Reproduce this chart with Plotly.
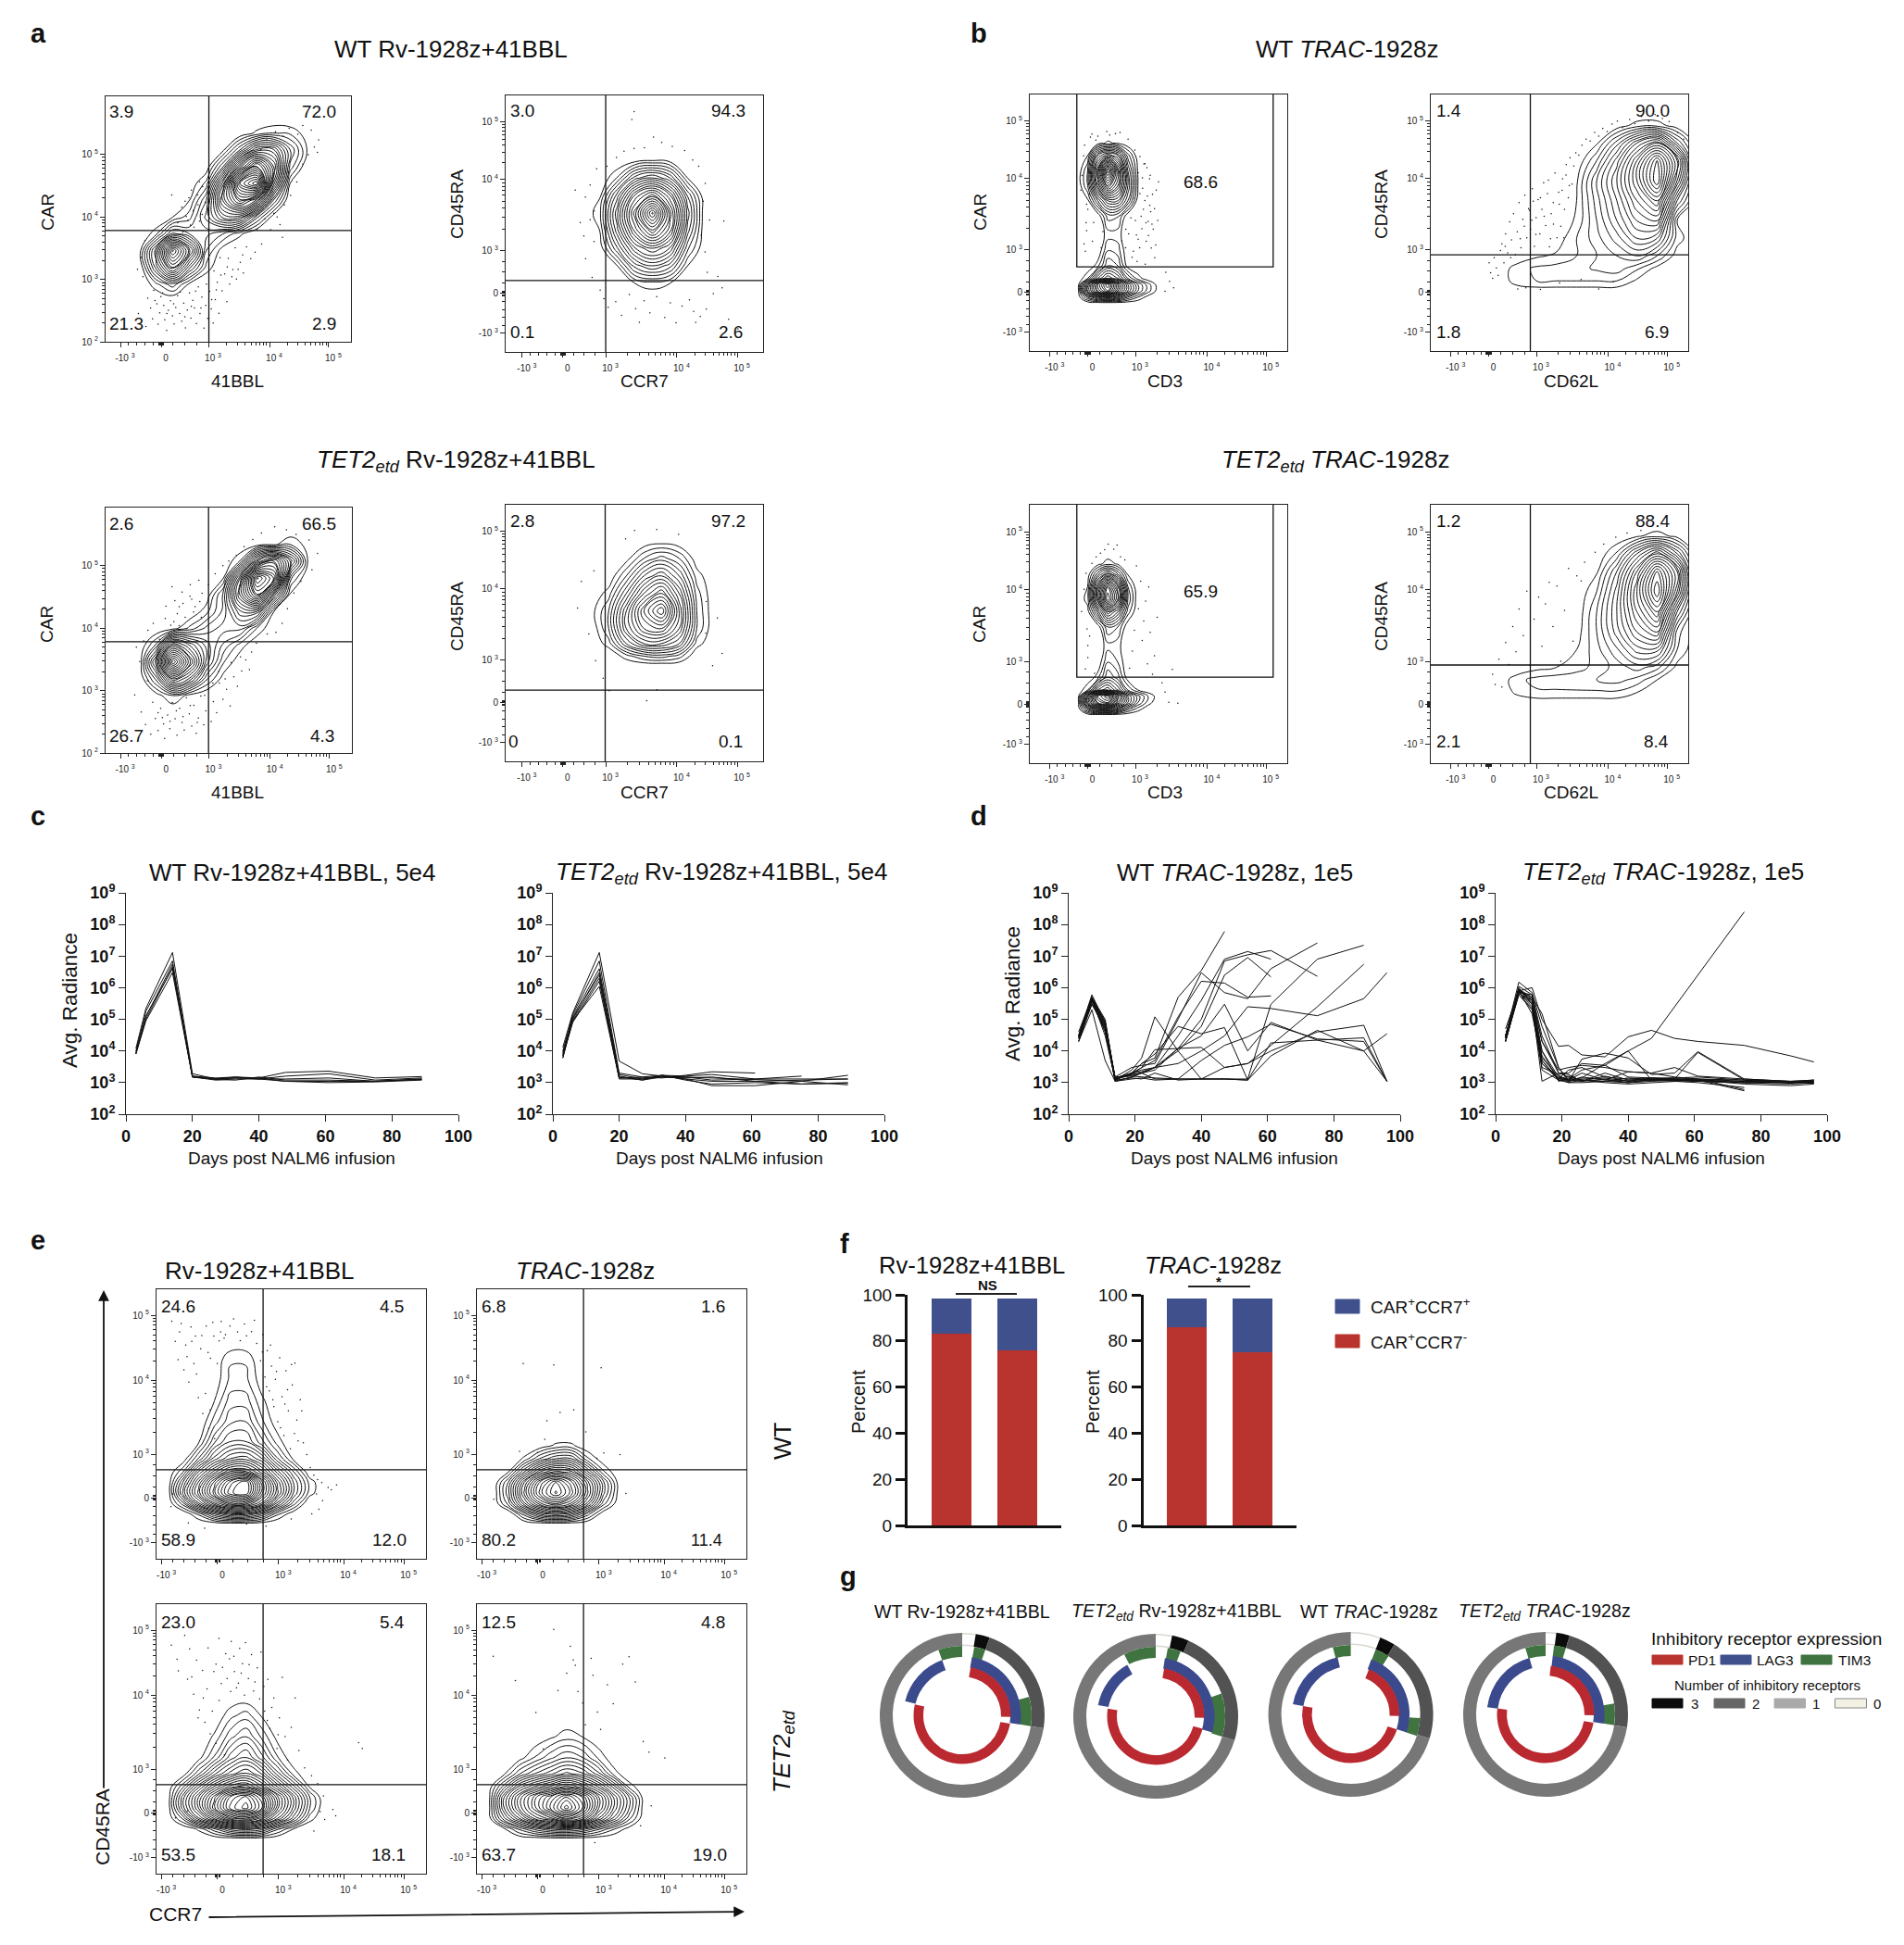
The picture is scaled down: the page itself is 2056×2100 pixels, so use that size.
import math
import plotly.graph_objects as go

W = 2056
H = 2100

# ---- flow panels: axes are in display channels (0-1024), z = contour ring count ----
A_X = [140, 210, 280, 350, 420, 490, 560, 630, 700, 770, 840, 910]
A_Y = [170, 240, 310, 380, 450, 520, 590, 660, 730, 800, 870, 940]
A1_Z = [
    [0,0,0,0,0,0,0,0,0,0,0,0],
    [0,1.5,3,.8,0,0,0,0,0,0,0,0],
    [0,5,10,5,1.5,0,0,0,0,0,0,0],
    [.5,6,14,9,2.5,.5,0,0,0,0,0,0],
    [0,1.5,5,4,3.5,2.5,1.2,0,0,0,0,0],
    [0,0,1,2.2,5,8,8,3.5,.5,0,0,0],
    [0,0,0,1,4,11,15,12,4,0,0,0],
    [0,0,0,.3,2,9,19,22,9,1,0,0],
    [0,0,0,0,.4,4,11,16,11,3,.2,0],
    [0,0,0,0,0,.8,4,8,8,4,1,0],
    [0,0,0,0,0,0,.3,1.2,1.8,1.6,.6,0],
    [0,0,0,0,0,0,0,0,0,0,0,0],
]
A3_Z = [
    [0,0,0,0,0,0,0,0,0,0,0,0],
    [0,.5,2,.6,0,0,0,0,0,0,0,0],
    [0,4,11,8,3,.5,0,0,0,0,0,0],
    [0,8,20,13,6,2,.2,0,0,0,0,0],
    [0,3,12,9,6,3.5,1.5,0,0,0,0,0],
    [0,0,.5,2.2,4,5,5,1.8,0,0,0,0],
    [0,0,0,0,1.6,4,8,8,1,0,0,0],
    [0,0,0,0,.3,4,12,18,8,.6,0,0],
    [0,0,0,0,0,1,10,22,18,3,0,0],
    [0,0,0,0,0,0,2,10,14,8,1,0],
    [0,0,0,0,0,0,0,.4,.8,1.8,.6,0],
    [0,0,0,0,0,0,0,0,0,0,0,0],
]
A2_X = [304, 374, 444, 514, 584, 654, 724, 794, 864]
A2_Y = [204, 274, 344, 414, 484, 554, 624, 694, 764, 834]
A2_Z = [
    [0,0,0,0,0,0,0,0,0],
    [0,0,0,1,1.5,1,0,0,0],
    [0,0,1,5,6.5,5,1,0,0],
    [0,.3,4.5,9,11,9,3,0,0],
    [0,1,7,13,17,13,5,0,0],
    [0,1.6,8,15,22,14,6,0,0],
    [0,.8,6,12,15,11,4.5,0,0],
    [0,0,2,6,7.5,5.5,1,0,0],
    [0,0,0,.6,1,.6,0,0,0],
    [0,0,0,0,0,0,0,0,0],
]
A4_X = [340, 410, 480, 550, 620, 690, 760, 830]
A4_Y = [380, 420, 470, 530, 600, 670, 740, 810, 880]
A4_Z = [
    [0,0,0,0,0,0,0,0],
    [0,0,1.5,3,3.5,2.5,0,0],
    [0,1.5,6,9,9,7,1.5,0],
    [0,3,9,13,14,10,3,0],
    [.5,3,9,15,19,11,3,0],
    [0,1.5,6,11,14,9,2.5,0],
    [0,0,3,7,9,6,1.5,0],
    [0,0,.5,3,4.5,3,.3,0],
    [0,0,0,0,.3,0,0,0],
]
B1_X = [190, 230, 270, 310, 350, 390, 430, 470, 510, 550]
B1_Y = [190, 215, 240, 265, 290, 340, 400, 466, 540, 600, 660, 720, 780, 830, 880]
B1_Z = [
    [0,0,0,0,0,0,0,0,0,0],
    [0,4,7,9,7,4,2,.5,0,0],
    [0,10,16,20,14,9,5,2.5,.5,0],
    [0,9,17,22,15,9,5,2.5,.5,0],
    [0,2,7,10,8,4,1.5,.3,0,0],
    [0,0,1.5,5,4,.4,0,0,0,0],
    [0,0,0,3,2.5,0,0,0,0,0],
    [0,0,0,1.5,1.5,0,0,0,0,0],
    [0,0,.2,3.5,3.2,.2,0,0,0,0],
    [0,.7,5,9,9,5,.3,0,0,0],
    [0,3,11,18,14,7,1,0,0,0],
    [0,3,13,24,15,6,.8,0,0,0],
    [0,1,8,11,9,3.5,.2,0,0,0],
    [0,0,.4,1.2,.8,0,0,0,0,0],
    [0,0,0,0,0,0,0,0,0,0],
]
B3_Y = [190, 215, 240, 265, 290, 340, 400, 466, 540, 600, 650, 700, 750, 790, 840]
B3_Z = [
    [0,0,0,0,0,0,0,0,0,0],
    [0,5,9,10,7,3.5,1.5,.3,0,0],
    [0,11,18,20,13,8,4,1.5,.2,0],
    [0,10,20,23,15,8,4.5,2,.4,0],
    [0,2,8,10,7,3,1,.2,0,0],
    [0,0,1.5,5,3.5,.3,0,0,0,0],
    [0,0,0,3,2,0,0,0,0,0],
    [0,0,0,1.6,1.4,0,0,0,0,0],
    [0,0,.2,4,3,.1,0,0,0,0],
    [0,.5,5.5,11,8,2.5,0,0,0,0],
    [0,1.5,11,20,14,4,.1,0,0,0],
    [0,1,10,18,12,3,0,0,0,0],
    [0,.2,4.5,8,5,.8,0,0,0,0],
    [0,0,.5,1.6,.8,0,0,0,0,0],
    [0,0,0,0,0,0,0,0,0,0],
]
B2_X = [260, 340, 420, 500, 580, 660, 740, 820, 900, 980, 1060]
B2_Y = [230, 280, 330, 380, 450, 520, 600, 680, 760, 830, 900, 950]
B2_Z = [
    [0,0,0,0,0,0,0,0,0,0,0],
    [0,1.5,2,2,2,2,2,.8,0,0,0],
    [0,1.5,2.2,2.4,2.6,3.2,3.6,2.2,.6,0,0],
    [0,0,.8,1.2,2,3,4,5,3,.4,0],
    [0,0,0,.3,2,3.6,5.5,8,7,1.5,0],
    [0,0,0,0,1.2,4,7,10,11,1,0],
    [0,0,0,0,1,4.5,8,12,15,5,0],
    [0,0,0,0,.8,5,9,14,20,10,0],
    [0,0,0,0,0,3,7.5,13,19,12,0],
    [0,0,0,0,0,.8,4.5,9,12,5,0],
    [0,0,0,0,0,0,.3,1.5,1.6,.3,0],
    [0,0,0,0,0,0,0,0,0,0,0],
]
B4_Z = [
    [0,0,0,0,0,0,0,0,0,0,0],
    [0,1.2,1.8,1.8,1.8,1.8,1.8,1,0,0,0],
    [0,1.6,2.4,2.6,2.8,3,3.4,2.6,1,0,0],
    [0,0,.6,1,1.5,2.4,3.4,4.5,3.4,.6,0],
    [0,0,0,0,1,2.6,4.8,7.5,7.5,2,0],
    [0,0,0,0,.4,3,6.5,10,12,2.5,0],
    [0,0,0,0,.1,3,7,12,16,6,0],
    [0,0,0,0,0,2,6.5,13,20,11,0],
    [0,0,0,0,0,.8,5,11,18,12,0],
    [0,0,0,0,0,0,2.2,7,11,6,0],
    [0,0,0,0,0,0,0,.8,1.6,.6,0],
    [0,0,0,0,0,0,0,0,0,0,0],
]
E_X = [40, 100, 160, 220, 280, 340, 400, 460, 520, 580, 640]
E1_Y = [130, 170, 210, 250, 290, 330, 380, 440, 520, 600, 680, 760, 830]
E1_Z = [
    [0,0,0,0,0,0,0,0,0,0,0],
    [0,0,2,5,7,7,5,2,.3,0,0],
    [0,3,8,12,15,15,12,7,3,0,0],
    [0,6,11,16,20,21,15,10,5,1.5,0],
    [0,5,10,15,19,21,15,9.5,5,1.6,0],
    [0,2.5,7.5,11,14,14,11,7,3.5,.3,0],
    [0,.3,3.5,7,9,9.5,7.5,3.5,.8,0,0],
    [0,0,1,4.2,6,6,3.8,1.5,0,0,0],
    [0,0,0,2.2,4,4.2,2,.4,0,0,0],
    [0,0,0,1,3,3,1.2,.2,0,0,0],
    [0,0,0,.4,2,2,.5,0,0,0,0],
    [0,0,0,.2,1.7,1.7,.1,0,0,0,0],
    [0,0,0,0,0,0,0,0,0,0,0],
]
E2_X = [60, 120, 180, 240, 300, 360, 420, 480, 540, 600]
E2_Y = [130, 170, 210, 250, 290, 330, 380, 430, 480]
E2_Z = [
    [0,0,0,0,0,0,0,0,0,0],
    [0,0,3,6,7,6,3,.3,0,0],
    [0,3,8,12,14,12,8,3,.2,0],
    [0,4,10,15,18,15,10,4.5,.5,0],
    [0,3.5,9,14,17,14,9.5,4.5,.5,0],
    [0,1,5,9,11,10,6,2,0,0],
    [0,0,1.2,3.5,5,5,2,.3,0,0],
    [0,0,0,.4,1.2,1.2,.2,0,0,0],
    [0,0,0,0,0,0,0,0,0,0],
]
E3_Y = [130, 170, 210, 250, 290, 330, 380, 440, 520, 600, 680]
E3_Z = [
    [0,0,0,0,0,0,0,0,0,0,0],
    [0,0,1.2,3.5,6,7,6,3,1,0,0],
    [0,3,8,12,16,17,14,10,6,1.5,0],
    [0,6,11,17,22,24,20,13,8,3,0],
    [0,6,11,16,21,23,19,13,8,3,0],
    [0,3.5,8,12,15,16,13,9,5,1,0],
    [0,.3,3.5,7,9.5,11,9,5,1.5,0,0],
    [0,0,.6,3,6,7.5,5,2,.2,0,0],
    [0,0,0,1.2,3.4,4.6,2.6,.6,0,0,0],
    [0,0,0,.1,1.6,2.4,.9,0,0,0,0],
    [0,0,0,0,0,0,0,0,0,0,0],
]
E4_Y = [130, 170, 210, 250, 290, 330, 380, 440, 520, 600]
E4_Z = [
    [0,0,0,0,0,0,0,0,0,0,0],
    [0,.6,3,5,6.5,7,6,4,2,.5,0],
    [0,5,9,13,15,18,16,11,7,3,0],
    [0,7,12,16,20,24,20,14,9,4.5,0],
    [0,7,12,16,19,22,19,14,9,4.5,0],
    [0,4,8.5,11,13,15,13,10,6,1.5,0],
    [0,.6,3.5,5.5,7,8.5,7.5,5,1.5,0,0],
    [0,0,.5,2,3.5,4.6,3.8,1.8,.2,0,0],
    [0,0,0,.1,.8,1.5,1,.1,0,0,0],
    [0,0,0,0,0,0,0,0,0,0,0],
]

# single events outside the outer contour, read by eye (channel x, channel y)
A1_DOTS = [(137,118),(168,64),(176,182),(188,141),(196,96),(201,214),(214,158),(219,73),(226,121),(231,188),(243,152),(247,92),(255,47),(262,131),(271,171),(279,108),(286,74),(293,143),(301,192),(309,118),(318,86),(326,161),(333,58),(341,132),(350,204),(356,99),(364,173),(371,141),(379,76),(387,229),(394,118),(402,186),(411,57),(418,152),(426,98),(434,211),(441,137),(449,78),(458,176),(466,248),(473,119),(486,213),(497,283),(506,167),(518,241),(531,301),(546,262),(562,331),(575,287),(452,296),(478,351),(512,348),(541,392),(588,396),(606,347),(624,374),(651,408),(133,302),(149,352),(164,421),(156,271),(322,458),(301,497),(337,523),(318,561),(348,601),(366,548),(383,612),(354,487),(392,503),(405,647),(417,582),(276,612),(633,468),(664,512),(702,536),(728,489),(746,571),(772,611),(761,708),(798,667),(823,741),(846,781),(871,812),(889,842),(858,883),(823,902),(802,866),(766,891),(741,858),(709,876),(672,842),(648,801),(884,790),(206,172),(238,204),(256,118),(284,158),(312,208),(331,104),(358,148),(376,212),(398,141),(421,241),(443,176),(462,216),(481,278),(508,312),(527,271),(553,302),(572,362),(344,507),(369,478),(386,571),(403,531),(332,586),(358,633),(392,668),(689,468),(716,521),(738,436)]
A2_DOTS = [(311,463),(336,528),(318,372),(352,441),(344,298),(376,247),(391,213),(408,178),(438,201),(461,146),(492,229),(517,173),(532,118),(551,204),(574,156),(601,221),(633,138),(655,196),(678,116),(702,183),(731,208),(748,162),(774,141),(798,171),(826,233),(844,301),(861,256),(802,318),(793,399),(778,466),(811,527),(786,602),(794,673),(768,741),(744,766),(712,804),(663,821),(621,836),(588,858),(552,815),(511,812),(471,801),(441,776),(403,741),(362,731),(336,666),(317,618),(352,563),(297,517),(277,646),(511,959),(502,928),(868,522),(756,118),(924,92),(887,130)]
A3_DOTS = [(121,242),(148,171),(166,119),(174,301),(188,78),(196,212),(207,144),(218,94),(229,186),(241,122),(246,61),(258,158),(267,101),(278,211),(289,143),(297,74),(308,186),(318,128),(327,96),(336,231),(348,163),(358,112),(367,199),(377,82),(386,146),(396,238),(408,118),(417,176),(428,266),(439,131),(448,214),(462,168),(473,292),(488,224),(503,266),(518,196),(533,318),(548,278),(566,342),(583,388),(607,421),(627,458),(142,382),(128,441),(158,468),(176,512),(198,541),(224,474),(248,561),(271,533),(298,582),(322,624),(351,654),(372,611),(401,667),(388,721),(428,702),(456,748),(488,782),(512,801),(544,824),(576,861),(612,891),(648,918),(703,944),(752,931),(792,912),(846,889),(881,833),(858,764),(812,716),(783,668),(756,602),(734,541),(708,503),(672,497),(262,498),(284,548),(306,611),(331,566),(352,702),(318,671),(338,519),(366,588),(392,632),(288,636),(251,612),(276,694),(398,566),(306,531),(358,641),(218,168),(236,148),(268,132),(294,176),(322,152),(352,198),(381,128),(412,241),(446,292),(471,341),(497,309),(522,378),(561,401),(598,348)]
A4_DOTS = [(286,612),(331,508),(358,402),(388,332),(412,282),(561,242),(602,286),(477,888),(513,921),(601,925),(688,906),(798,638),(842,572),(861,431),(823,382),(301,718),(351,761),(796,512)]
B1_DOTS = [(216,428),(224,512),(226,586),(203,642),(208,701),(214,779),(218,822),(226,481),(231,566),(238,626),(241,854),(247,866),(249,438),(254,513),(263,842),(271,858),(284,412),(291,477),(306,876),(318,862),(341,868),(359,872),(366,440),(382,486),(391,846),(402,531),(411,611),(418,802),(424,463),(431,712),(438,776),(443,538),(449,650),(454,747),(458,601),(463,438),(466,732),(471,518),(476,688),(479,701),(483,411),(488,626),(496,568),(503,642),(512,676),(221,398),(407,374),(427,358),(459,347),(497,372),(541,314),(556,278),(538,238),(572,252),(437,412),(446,488),(452,566),(462,512),(472,461),(481,556),(491,486),(501,423),(509,521),(438,628),(448,691),(458,748),(468,618),(477,581),(486,506),(381,412),(393,468),(412,398),(420,521),(431,446)]
B2_DOTS = [(232,352),(238,312),(246,290),(252,372),(261,332),(268,302),(277,401),(283,428),(291,352),(298,468),(306,392),(314,516),(321,444),(329,548),(336,384),(344,476),(351,592),(359,412),(366,526),(374,622),(382,452),(389,568),(397,486),(404,648),(412,418),(419,532),(427,604),(434,468),(442,566),(449,672),(457,501),(464,628),(472,416),(479,548),(487,592),(494,711),(502,452),(509,634),(517,498),(524,688),(532,566),(539,744),(547,612),(554,772),(562,666),(569,738),(577,791),(589,782),(601,822),(618,846),(634,838),(652,872),(668,858),(684,888),(702,876),(721,906),(742,918),(763,892),(791,924),(812,908),(838,936),(866,918),(892,944),(921,928),(948,916),(982,872),(1006,846),(378,252),(436,246),(512,272),(598,286),(668,248),(726,276),(346,248),(402,522),(418,466),(436,612),(451,538),(468,682),(476,448),(488,506),(511,586),(522,641),(529,452),(538,702),(551,661),(296,418),(318,372),(356,448),(372,498),(392,562),(408,598)]
B3_DOTS = [(221,373),(231,466),(228,532),(206,601),(216,689),(224,752),(231,418),(238,504),(247,792),(258,356),(264,818),(281,832),(298,846),(312,868),(334,848),(347,864),(361,818),(378,806),(397,376),(408,444),(416,527),(424,782),(432,612),(441,721),(447,486),(453,563),(461,642),(468,394),(473,698),(479,518),(488,352),(496,426),(507,578),(526,318),(538,282),(553,241),(567,372),(589,238)]
B4_DOTS = [(246,352),(256,312),(271,412),(283,302),(298,478),(311,391),(326,541),(339,441),(351,611),(368,506),(382,682),(394,388),(411,571),(429,658),(442,463),(456,631),(471,717),(486,541),(502,702),(517,404),(532,606),(548,772),(566,484),(581,742),(598,722),(612,796),(654,836),(688,868),(736,896),(781,912),(836,922)]
E1_DOTS = [(58,903),(71,826),(82,757),(94,894),(104,718),(111,812),(123,671),(131,881),(142,742),(148,846),(159,612),(168,798),(176,552),(189,884),(198,496),(205,762),(214,898),(221,457),(238,828),(246,902),(262,852),(279,884),(293,911),(308,862),(318,829),(334,892),(342,847),(361,863),(372,906),(381,818),(395,752),(404,852),(412,691),(421,791),(429,638),(437,732),(446,578),(452,682),(461,521),(468,764),(477,616),(484,468),(492,714),(501,562),(509,418),(516,661),(526,743),(533,527),(546,604),(558,441),(571,396),(584,347),(598,318),(612,301),(628,289),(652,271),(664,262),(684,281),(608,246),(631,221),(617,188),(590,171),(118,286),(62,246),(55,198),(121,136),(183,116),(342,132),(416,124),(512,151),(88,862),(116,768),(134,826),(152,702),(172,848),(186,628),(196,784),(204,566),(218,846),(231,742),(244,862),(257,838),(402,786),(418,654),(433,812),(442,604),(456,712),(471,498),(488,588),(498,642),(513,738),(524,476),(538,448),(552,562)]
E2_DOTS = [(176,742),(292,736),(472,726),(368,566),(316,556),(258,454),(266,524),(162,408),(230,404),(456,382),(482,402),(544,396),(566,248),(64,226),(414,482)]
E3_DOTS = [(56,868),(78,815),(83,771),(107,905),(118,739),(126,854),(141,682),(152,811),(163,622),(175,772),(184,575),(196,858),(204,531),(218,768),(226,495),(237,894),(246,722),(258,451),(263,836),(277,816),(284,882),(296,768),(304,706),(316,856),(327,798),(338,878),(349,742),(361,832),(369,694),(383,782),(397,842),(411,618),(423,738),(431,552),(446,668),(458,476),(467,592),(478,746),(489,521),(498,432),(512,556),(527,668),(541,468),(563,402),(589,372),(612,342),(634,296),(622,236),(639,206),(598,162),(768,498),(782,476),(670,244),(681,220),(118,238),(72,212),(134,748),(158,592),(178,668),(192,702),(212,618),(226,796),(238,658),(251,784),(268,742),(282,692),(294,826),(311,724),(322,762),(334,678),(352,794),(374,728),(392,664),(408,712),(421,582),(438,632),(462,528)]
E4_DOTS = [(62,826),(146,734),(224,612),(252,474),(292,928),(308,696),(341,762),(355,864),(366,812),(374,792),(384,692),(402,648),(412,566),(434,818),(441,754),(458,614),(470,548),(496,718),(518,646),(554,796),(578,824),(602,728),(632,502),(654,462),(714,440),(662,258),(622,182),(448,118)]

# ---- bioluminescence panels ----
C1_DAYS = [3, 6, 14, 20, 27, 33, 40, 48, 61, 75, 89]
C1_SERIES = [
    [1.2e4,2.2e5,1.3e7,1.9e3,1.3e3,1.5e3,1.3e3,1.6e3,1.9e3,1.2e3,1.4e3],
    [1e4,1.8e5,7e6,1.6e3,1.4e3,1.5e3,1.4e3,2.1e3,2.3e3,1.4e3,1.55e3],
    [8e3,1.2e5,5.5e6,1.5e3,1.3e3,1.4e3,1.3e3,1.3e3,1.4e3,1.1e3,1.3e3],
    [9e3,1e5,4.5e6,1.5e3,1.2e3,1.3e3,1.3e3,1.1e3,1.1e3,1.1e3,1.25e3],
    [8e3,9e4,3e6,1.5e3,1.3e3,1.4e3,1.4e3,1.1e3,1e3,1.05e3,1.2e3],
    [8.5e3,1.3e5,4e6,1.6e3,1.25e3,1.2e3,1.5e3,1.2e3,1.2e3,1.1e3,1.3e3],
]
C2_SERIES = [
    [1.3e4,1.6e5,1.3e7,4.8e3,1.9e3,1.6e3,1.5e3,1.4e3,1.2e3,1.1e3,1.7e3],
    [1e4,1.4e5,7e6,2e3,1.5e3,1.4e3,1.7e3,2.2e3,2e3],
    [8e3,1.2e5,4e6,1.8e3,1.3e3,1.7e3,1.6e3,1.8e3,1.3e3,1.6e3],
    [7e3,1e5,3e6,1.5e3,1.2e3,1.7e3,1.3e3,1.1e3,1.1e3,1.2e3,1.3e3],
    [6e3,9e4,2e6,1.4e3,1.4e3,1.5e3,1.4e3,1.5e3,1.1e3,9e2,1e3],
    [7e3,8e4,1.6e6,1.3e3,1.3e3,1.6e3,1.3e3,8e2,8e2,1.1e3,8.5e2],
    [9e3,9e4,1.1e6,1.4e3,1.5e3,1.7e3,1.2e3,9e2,1e3,9e2,9.5e2],
    [6e3,1.1e5,2.5e6,1.6e3,1.2e3,1.5e3,1.5e3,1.2e3,1.3e3,1.3e3,1.3e3],
]
D_DAYS = [3, 7, 11, 14, 19, 22, 26, 33, 40, 47, 54, 61, 75, 89, 96]
D1_SERIES = [
    [4e4,5e5,1e5,1.2e3,2e3,4e3,6e3,5e5,3.5e6,6e7],
    [3e4,6e5,8e4,1.3e3,2e3,3e3,5e3,1.2e5,1.6e6,1.4e6,5e5,5.5e5],
    [2e4,3e5,5e4,1.5e3,3e3,3.5e3,4e3,1e5,3e6,7e5,4.5e5,4e6,2.6e7],
    [3e4,4e5,9e4,1.2e3,2e3,2.5e3,3e3,3e4,4e5,8e6,1.4e7,8e6],
    [3e4,5e5,7e4,1.1e3,1.5e3,2e3,2.5e3,1.2e4,1e5,7e6,1.1e7,1.5e7,2.3e6],
    [2.5e4,4e5,6e4,1.4e3,2e3,2.2e3,3e3,1e4,6e4,2.5e6,9e6,2.2e6],
    [2e4,2e5,5e3,1.1e3,1.3e3,1.4e3,1.2e3,1.3e3,1.3e3,1.3e3,1.3e3,3e5,8e6,2.2e7],
    [2.5e4,4.5e5,3e4,1.3e3,1.8e3,2e3,1.3e3,1.3e3,1.3e3,3e3,4e3,1.5e4,2.5e5,5.5e6],
    [3e4,5e5,4e4,1.3e3,1.7e3,2e3,3e3,4e3,1e4,3e4,2.5e5,2.2e5,1.3e5,4.5e5,3e6],
    [3e4,3e5,6e4,1.2e3,2.5e3,6e3,1.2e5,1e4,1.3e3,1.3e3,1.2e3,7e3,4.5e4,1e4,3.5e4],
    [2.5e4,4e5,5e4,1.1e3,1.5e3,2e3,3e3,1.2e4,3e4,3e5,1e4,8e4,2.2e4,1e4,1.1e3],
    [3e4,5e5,7e4,1.4e3,2e3,4e3,8e3,6e4,3.5e4,5.5e4,1.2e3],
    [2.5e4,3.5e5,4e4,1.2e3,1.4e3,1.3e3,2e3,1.2e3,1.3e3,1.3e3,1.2e3,1.8e4,2.2e4,2.6e4,1.1e3],
    [3e4,4.5e5,6e4,1.3e3,1.8e3,3e3,1.1e4,1.2e4,1.3e4,3e3,4e3,1e4,4e4,6.5e4,1.1e3],
    [2e4,4e5,8e4,1.5e3,1.6e3,1.5e3,1.4e3,1.3e3,5e3,1.5e4,2.8e4,7e4,2.4e4,2e4,1.1e3],
]
D2_SERIES = [
    [2.5e4,9e5,5e5,1.5e5,3e3,1.2e3,1.4e3,4e3,1e4,2.5e4,2.5e5,2.5e6,2.5e8],
    [5e4,8e5,1e6,1e5,1.4e4,1.5e4,7.5e3,6.5e3,2.8e4,4.5e4,2.5e4,2e4,1.5e4,7e3,4.5e3],
    [3e4,1.5e6,7e5,6e4,3e3,1.1e3,5.5e3,8.5e3,6e3,1.8e3,2e3,9.5e3,1.3e3,1.1e3,1e3],
    [2.5e4,1.1e6,6e5,3e4,2e3,2e3,4e3,3.5e3,1e4,1.2e3,1.3e3,9e3,1.2e3,1e3,1.1e3],
    [3e4,9e5,4e5,2e4,2.5e3,3e3,3.5e3,3e3,2.2e3,2e3,3e3,1.6e3,1.3e3,1.1e3,1.2e3],
    [2e4,7e5,3e5,1e4,1.1e3,1.3e3,2.5e3,3.5e3,1.5e3,1.4e3,1.2e3,1.3e3,6e2],
    [2.5e4,6e5,2e5,5e3,1.2e3,1.1e3,1.5e3,1.2e3,1e3,1.2e3,1.3e3,1.2e3,5.5e2],
    [3e4,8e5,5e5,1e4,1.5e3,1.2e3,1.1e3,2e3,1.2e3,1.3e3,1.4e3,1.5e3,1.2e3,1e3,1.2e3],
    [2e4,7e5,2.5e5,3e3,1.8e3,1e3,1.2e3,1.1e3,1e3,1.1e3,1.2e3,1.1e3,1e3,9e2,1e3],
    [2.5e4,6.5e5,4e5,7e3,1.3e3,2.5e3,3e3,1.5e3,1.3e3,1.4e3,1.3e3,1.2e3,1.1e3,1e3,1.1e3],
    [3e4,1e6,3e5,1.1e3,2e3,1.5e3,1.2e3,1e3,9e2,1e3,1.1e3,1.2e3,9e2,8e2,9e2],
    [2e4,8e5,1.5e5,4e3,1.2e3,1e3,1e3,1.1e3,1.4e3,1.2e3,1.1e3,1e3,7e2],
    [2.5e4,7e5,6e5,2e4,2e3,1.8e3,1.1e3,1.3e3,1e3,1.3e3,1.2e3,1.1e3,1e3,1e3,1.1e3],
    [3e4,9e5,3.5e5,6e3,1.6e3,1.2e3,2e3,1.2e3,2.2e3,2e3,1.5e3,1.3e3,1.2e3,1.1e3,1e3],
    [3e4,7.5e5,4.5e5,4e3,1.4e3,1.1e3,1.3e3,1.4e3,1.1e3,1.4e3,1.4e3,1.3e3,1.1e3,1e3,1.05e3],
    [2.5e4,8.5e5,3e5,5e3,1.3e3,1.6e3,1.2e3,1.1e3,1.2e3,1.3e3,1.3e3,1.2e3,1e3,1.1e3,1.2e3],
    [2e4,6e5,2.2e5,2.5e3,1.2e3,1.4e3,1.1e3,1.6e3,1.1e3,1.2e3,1.2e3,1.1e3,1.05e3,1e3,9.5e2],
]

# ---- stacked bars ----
BAR_GROUPS = ["WT", "TET2etd"]
F1_NEG = [83, 76]
F1_POS = [15.5, 22.5]
F2_NEG = [86, 75]
F2_POS = [12.5, 23.5]

# ---- SPICE style rings: degrees clockwise from 12 o'clock, gaps and arcs alternating ----
D1_OUTER = [9.5, 10, 79.5, 261]
D1_TIM3 = [10, 9.5, 55, 24.5, 241, 20]
D1_LAG3 = [9.5, 89.5, 185, 56, 20]
D1_PD1 = [10, 82, 8, 183, 77]
D2_OUTER = [11.5, 12, 83.5, 253]
D2_TIM3 = [10, 11, 50, 36, 226, 27]
D2_LAG3 = [9, 97, 175, 50, 29]
D2_PD1 = [10, 82, 13, 174, 81]
D3_OUTER = [21, 11, 75, 253]
D3_TIM3 = [21, 12, 60, 15, 237, 15]
D3_LAG3 = [20.5, 87.5, 172, 67, 13]
D3_PD1 = [22, 70, 16, 172, 80]
D4_OUTER = [7.5, 9.5, 82, 261]
D4_TIM3 = [7, 10, 64, 18, 244, 17]
D4_LAG3 = [7, 92, 178, 67, 16]
D4_PD1 = [6, 85, 9, 177, 83]

RED = "#B9342E"
BLUE = "#40508C"
GREEN = "#3F7440"
RING_RED = "#BA2830"
RING_BLUE = "#3B4A8C"
NONE = "rgba(0,0,0,0)"
FONT = "Liberation Sans"

fig = go.Figure()
axis_no = 1


def px_x(p):
    return p / W


def px_y(p):
    return 1 - p / H


def note(text, x, y, size=19, angle=0, anchor="center", bold=False):
    if bold:
        text = "<b>" + text + "</b>"
    fig.add_annotation(text=text, x=px_x(x), y=px_y(y), xref="paper", yref="paper",
                       showarrow=False, xanchor=anchor, yanchor="middle", textangle=angle,
                       font=dict(family=FONT, size=size, color="#111"))


def new_axes(x0, x1, y0, y1, xopts, yopts):
    global axis_no
    axis_no += 1
    n = axis_no
    # the default template turns automargin on and that shrinks the whole paper
    fig.update_layout({
        f"xaxis{n}": dict(domain=[px_x(x0), px_x(x1)], anchor=f"y{n}", automargin=False, **xopts),
        f"yaxis{n}": dict(domain=[px_y(y1), px_y(y0)], anchor=f"x{n}", automargin=False, **yopts),
    })
    return f"x{n}", f"y{n}"


def minor_ticks(major):
    # log spaced minor ticks between the decades, a short run on the linear part
    out = []
    for lo, hi in zip(major, major[1:]):
        for k in range(2, 10):
            out.append(lo + (hi - lo) * math.log10(k))
    return out


def flow_axis(majors, labels, is_log_part):
    minors = minor_ticks(is_log_part)
    if majors[0] != is_log_part[0]:
        z = majors[1]
        minors += [majors[0] + (z - majors[0]) * k / 5 for k in range(1, 5)]
        minors += [z + d for d in (-10, -7, -4, 4, 7, 10)]
        minors += [z + (is_log_part[0] - z) * k / 4 for k in range(1, 4)]
    return dict(range=[0, 1024], tickmode="array", tickvals=majors, ticktext=labels,
                ticks="outside", ticklen=5, tickwidth=1, tickcolor="#222",
                minor=dict(tickmode="array", tickvals=minors, ticks="outside", ticklen=3,
                           tickwidth=1, tickcolor="#222"),
                tickfont=dict(family=FONT, size=10, color="#222"),
                showline=True, mirror=True, linecolor="#222", linewidth=1,
                showgrid=False, zeroline=False)


def flow_panel(box, x_ticks, y_ticks, cx, cy, cz, top, dots, vline=None, hline=None, gate=None, step=1):
    x0, x1, y0, y1 = box
    bio = ["-10 <sup>3</sup>", "0", "10 <sup>3</sup>", "10 <sup>4</sup>", "10 <sup>5</sup>"]
    xa = flow_axis(x_ticks, bio, x_ticks[2:])
    xa.update(ticklabelshift=5, ticklabelstandoff=3)
    if len(y_ticks) == 4:
        ya = flow_axis(y_ticks, ["10 <sup>2</sup>", "10 <sup>3</sup>", "10 <sup>4</sup>", "10 <sup>5</sup>"], y_ticks)
    else:
        ya = flow_axis(y_ticks, bio, y_ticks[2:])
    xr, yr = new_axes(x0, x1, y0, y1, xa, ya)
    fig.add_trace(go.Scatter(x=[p[0] for p in dots], y=[p[1] for p in dots], mode="markers",
                             marker=dict(size=1.5, color="#111"), xaxis=xr, yaxis=yr,
                             showlegend=False, hoverinfo="skip"))
    fig.add_trace(go.Contour(x=cx, y=cy, z=cz, autocontour=False,
                             contours=dict(coloring="none", start=1, end=top, size=step),
                             line=dict(color="#111", width=1, smoothing=1.2),
                             showscale=False, hoverinfo="skip", xaxis=xr, yaxis=yr))
    if vline is not None:
        fig.add_trace(go.Scatter(x=[vline, vline], y=[0, 1024], mode="lines", xaxis=xr, yaxis=yr,
                                 line=dict(color="#111", width=1.3), showlegend=False, hoverinfo="skip"))
    if hline is not None:
        fig.add_trace(go.Scatter(x=[0, 1024], y=[hline, hline], mode="lines", xaxis=xr, yaxis=yr,
                                 line=dict(color="#111", width=1.3), showlegend=False, hoverinfo="skip"))
    if gate is not None:
        fig.add_trace(go.Scatter(x=[gate[0], gate[0], gate[1], gate[1]], y=[1024, gate[2], gate[2], 1024],
                                 mode="lines", xaxis=xr, yaxis=yr, line=dict(color="#111", width=1.3),
                                 showlegend=False, hoverinfo="skip"))


def line_panel(x0, x1, days, series):
    tick = [10 ** k for k in range(2, 10)]
    base = dict(showline=True, linecolor="#222", linewidth=1, showgrid=False, zeroline=False,
                ticks="outside", ticklen=7, tickwidth=1, tickcolor="#222",
                tickfont=dict(family=FONT, size=18, color="#111", weight="bold"))
    xa = dict(range=[0, 100], tickvals=[0, 20, 40, 60, 80, 100], **base)
    ya = dict(type="log", range=[2, 9], tickvals=tick,
              ticktext=[f"10<sup>{k}</sup>" for k in range(2, 10)], **base)
    xr, yr = new_axes(x0, x1, 964, 1203, xa, ya)
    for s in series:
        fig.add_trace(go.Scatter(x=days[:len(s)], y=s, mode="lines", xaxis=xr, yaxis=yr,
                                 line=dict(color="#111", width=1), showlegend=False, hoverinfo="skip"))


def bar_panel(x0, x1, neg, pos):
    base = dict(showline=True, linecolor="#111", linewidth=3, showgrid=False, zeroline=False)
    xa = dict(range=[-0.674, 1.68], tickvals=[], **base)
    ya = dict(range=[0, 100], tickvals=[0, 20, 40, 60, 80, 100], ticks="outside", ticklen=10, tickwidth=3,
              tickcolor="#111", tickfont=dict(family=FONT, size=19, color="#111"), **base)
    xr, yr = new_axes(x0, x1, 1398, 1647, xa, ya)
    cats = [0, 1]
    fig.add_trace(go.Bar(x=cats, y=neg, width=0.61, marker=dict(color=RED, line=dict(width=0)),
                         xaxis=xr, yaxis=yr, showlegend=False, customdata=BAR_GROUPS, hoverinfo="skip"))
    fig.add_trace(go.Bar(x=cats, y=pos, width=0.61, marker=dict(color=BLUE, line=dict(width=0)),
                         xaxis=xr, yaxis=yr, showlegend=False, customdata=BAR_GROUPS, hoverinfo="skip"))


def ring(cx, cy, r_out, r_in, values, colors):
    fig.add_trace(go.Pie(values=values, sort=False, direction="clockwise", rotation=0,
                         domain=dict(x=[px_x(cx - r_out), px_x(cx + r_out)],
                                     y=[px_y(cy + r_out), px_y(cy - r_out)]),
                         hole=r_in / r_out, textinfo="none", hoverinfo="skip", showlegend=False,
                         marker=dict(colors=colors, line=dict(width=0))))


def donut(cx, cy, outer, tim3, lag3, pd1):
    gap = outer[0]
    ring(cx, cy, 89, 87.6, [gap, 360 - gap], ["#D8D7D0", NONE])
    ring(cx, cy, 76.5, 75, [gap, 360 - gap], ["#D8D7D0", NONE])
    ring(cx, cy, 89, 75, outer, [NONE, "#0C0C0C", "#525252", "#777777"])
    ring(cx, cy, 75, 63, tim3, [NONE, GREEN, NONE, GREEN, NONE, GREEN])
    ring(cx, cy, 63.5, 52, lag3, [NONE, RING_BLUE, NONE, RING_BLUE, NONE])
    ring(cx, cy, 52.5, 42, pd1, [NONE, RING_RED, NONE, RING_RED, NONE])


def patch(x0, x1, y0, y1, color, edge=None):
    fig.add_shape(type="rect", xref="paper", yref="paper", x0=px_x(x0), x1=px_x(x1), y0=px_y(y0), y1=px_y(y1),
                  fillcolor=color, line=dict(color=edge or color, width=1))


def rule(x0, y0, x1, y1, width=1.5):
    fig.add_shape(type="line", xref="paper", yref="paper", x0=px_x(x0), x1=px_x(x1), y0=px_y(y0), y1=px_y(y1),
                  line=dict(color="#222", width=width))


A_TX = [62, 232, 429, 684, 931]
A_TY = [0, 259, 521, 781]
S_TX = [66, 228, 398, 681, 921]
S_TY = [74, 233, 403, 688, 917]
B_TX = [80, 230, 420, 705, 940]
E_TX = [20, 232, 464, 711, 940]
E_TY = [60, 232, 397, 679, 925]

flow_panel((114, 379, 104, 369), A_TX, A_TY, A_X, A_Y, A1_Z, 22, A1_DOTS, vline=431, hline=464, step=0.75)
flow_panel((546, 824, 103, 380), S_TX, S_TY, A2_X, A2_Y, A2_Z, 22, A2_DOTS, vline=398, hline=285, step=0.9)
flow_panel((114, 380, 548, 813), A_TX, A_TY, A_X, A_Y, A3_Z, 22, A3_DOTS, vline=428, hline=464, step=0.9)
flow_panel((546, 824, 545, 822), S_TX, S_TY, A4_X, A4_Y, A4_Z, 19, A4_DOTS, vline=396, hline=284)
flow_panel((1112, 1390, 102, 379), B_TX, S_TY, B1_X, B1_Y, B1_Z, 24, B1_DOTS, gate=(187, 968, 336))
flow_panel((1545, 1823, 102, 379), B_TX, S_TY, B2_X, B2_Y, B2_Z, 20, B2_DOTS, vline=396, hline=384)
flow_panel((1112, 1390, 545, 824), B_TX, S_TY, B1_X, B3_Y, B3_Z, 23, B3_DOTS, gate=(187, 968, 341))
flow_panel((1545, 1823, 545, 824), B_TX, S_TY, B2_X, B2_Y, B4_Z, 20, B4_DOTS, vline=396, hline=389)
flow_panel((169, 460, 1392, 1683), E_TX, E_TY, E_X, E1_Y, E1_Z, 21, E1_DOTS, vline=405, hline=338, step=0.8)
flow_panel((515, 806, 1392, 1683), E_TX, E_TY, E2_X, E2_Y, E2_Z, 18, E2_DOTS, vline=405, hline=338, step=0.8)
flow_panel((169, 460, 1732, 2023), E_TX, E_TY, E_X, E3_Y, E3_Z, 24, E3_DOTS, vline=405, hline=338, step=0.9)
flow_panel((515, 806, 1732, 2023), E_TX, E_TY, E_X, E4_Y, E4_Z, 24, E4_DOTS, vline=405, hline=338, step=0.9)

line_panel(136, 495, C1_DAYS, C1_SERIES)
line_panel(597, 955, C1_DAYS, C2_SERIES)
line_panel(1154, 1512, D_DAYS, D1_SERIES)
line_panel(1615, 1973, D_DAYS, D2_SERIES)

bar_panel(980, 1146, F1_NEG, F1_POS)
bar_panel(1234.5, 1400, F2_NEG, F2_POS)

donut(1039, 1852, D1_OUTER, D1_TIM3, D1_LAG3, D1_PD1)
donut(1248, 1853, D2_OUTER, D2_TIM3, D2_LAG3, D2_PD1)
donut(1458.6, 1851, D3_OUTER, D3_TIM3, D3_LAG3, D3_PD1)
donut(1669, 1851, D4_OUTER, D4_TIM3, D4_LAG3, D4_PD1)

# panel letters
for letter, x, y in [("a", 41, 36), ("b", 1057, 36), ("c", 41, 881), ("d", 1057, 881),
                     ("e", 41, 1339), ("f", 912, 1343), ("g", 916, 1702)]:
    note(letter, x, y, size=29, bold=True)

TET = "<i>TET2</i><sub><i>etd</i></sub>"
TRAC = "<i>TRAC</i>"

note("WT Rv-1928z+41BBL", 487, 53, 26)
note(TET + " Rv-1928z+41BBL", 492, 497, 26)
note("WT " + TRAC + "-1928z", 1454, 53, 26)
note(TET + " " + TRAC + "-1928z", 1442, 497, 26)

for y in (411, 856):
    note("41BBL", 256, y)
    note("CCR7", 696, y)
    note("CD3", 1258, y)
    note("CD62L", 1696, y)
for y, y2 in ((229, 221), (674, 666)):
    note("CAR", 51, y, angle=-90)
    note("CD45RA", 493, y2, angle=-90)
    note("CAR", 1058, y, angle=-90)
    note("CD45RA", 1491, y2, angle=-90)

S = 2056 / 1535
for text, x, y in [("3.9", 98, 90), ("72.0", 257, 90), ("21.3", 102, 261), ("2.9", 261, 261),
                   ("3.0", 421, 89), ("94.3", 587, 89), ("0.1", 421, 268), ("2.6", 589, 268),
                   ("2.6", 98, 422), ("66.5", 257, 422), ("26.7", 102, 593), ("4.3", 260, 593),
                   ("2.8", 421, 420), ("97.2", 587, 420), ("0", 414, 598), ("0.1", 589, 598),
                   ("68.6", 968, 147), ("1.4", 1168, 89), ("90.0", 1332, 89), ("1.8", 1168, 268), ("6.9", 1336, 268),
                   ("65.9", 968, 477), ("1.2", 1168, 420), ("88.4", 1332, 420), ("2.1", 1168, 598), ("8.4", 1335, 598)]:
    note(text, x * S, y * S)

for text, x, y in [("24.6", 192, 1410), ("4.5", 423, 1410), ("58.9", 192, 1662), ("12.0", 420, 1662),
                   ("6.8", 533, 1410), ("1.6", 770, 1410), ("80.2", 538, 1662), ("11.4", 763, 1663),
                   ("23.0", 192, 1751), ("5.4", 423, 1751), ("53.5", 192, 2002), ("18.1", 419, 2002),
                   ("12.5", 538, 1751), ("4.8", 770, 1751), ("63.7", 538, 2002), ("19.0", 766, 2002)]:
    note(text, x, y, size=18 if text == "11.4" else 19)

# c, d titles and labels
note("WT Rv-1928z+41BBL, 5e4", 316, 942, 26)
note(TET + " Rv-1928z+41BBL, 5e4", 779, 942, 26)
note("WT " + TRAC + "-1928z, 1e5", 1333, 942, 26)
note(TET + " " + TRAC + "-1928z, 1e5", 1796, 942, 26)
for x in (315, 777, 1333, 1794):
    note("Days post NALM6 infusion", x, 1250, 19)
note("Avg. Radiance", 75, 1080, 22.5, angle=-90)
note("Avg. Radiance", 1093, 1073, 22.5, angle=-90)

# e labels and arrows
note("Rv-1928z+41BBL", 280, 1372, 26)
note(TRAC + "-1928z", 632, 1372, 26)
note("WT", 845, 1556, 26, angle=-90)
note(TET, 845, 1891, 26, angle=-90)
note("CD45RA", 110, 1973, 21, angle=-90)
note("CCR7", 189, 2066, 21)
fig.add_annotation(x=px_x(112), y=px_y(1393), ax=0, ay=539, xref="paper", yref="paper",
                   axref="pixel", ayref="pixel", text="", showarrow=True, arrowhead=2, arrowsize=1.3, arrowwidth=1.8,
                   arrowcolor="#111")
fig.add_annotation(x=px_x(804), y=px_y(2064), ax=-580, ay=6, xref="paper", yref="paper",
                   axref="pixel", ayref="pixel", text="", showarrow=True, arrowhead=2, arrowsize=1.3, arrowwidth=1.8,
                   arrowcolor="#111")

# f labels
note("Rv-1928z+41BBL", 1049, 1366, 25.6)
note(TRAC + "-1928z", 1310, 1366, 25.6)
note("Percent", 927, 1514, 20, angle=-90)
note("Percent", 1180, 1514, 20, angle=-90)
rule(1032, 1397, 1098, 1397, 2)
note("NS", 1066, 1387, 15, bold=True)
rule(1283, 1389, 1350, 1389, 2)
note("*", 1316, 1384, 15, bold=True)
patch(1442, 1468, 1403, 1418, BLUE)
patch(1442, 1468, 1441, 1455, RED)
note("CAR<sup>+</sup>CCR7<sup>+</sup>", 1478, 1410, 19, anchor="left")
note("CAR<sup>+</sup>CCR7<sup>-</sup>", 1478, 1448, 19, anchor="left")

# g labels
note("WT Rv-1928z+41BBL", 1039, 1740, 19.6)
note(TET + " Rv-1928z+41BBL", 1270, 1740, 19.6)
note("WT " + TRAC + "-1928z", 1478, 1740, 19.6)
note(TET + " " + TRAC + "-1928z", 1668, 1740, 19.6)
note("Inhibitory receptor expression", 1907, 1769, 19)
patch(1784, 1817, 1787, 1797, RED)
note("PD1", 1821, 1792, 15.5, anchor="left")
patch(1858, 1891, 1787, 1797, BLUE)
note("LAG3", 1895, 1792, 15.5, anchor="left")
patch(1945, 1978, 1787, 1797, GREEN)
note("TIM3", 1982.5, 1792, 15.5, anchor="left")
note("Number of inhibitory receptors", 1908, 1819, 15)
patch(1784, 1817, 1834, 1844, "#0C0C0C")
note("3", 1830, 1839, 15)
patch(1851, 1884, 1834, 1844, "#666666")
note("2", 1896, 1839, 15)
patch(1916, 1949.5, 1834, 1844, "#AAAAAA")
note("1", 1961, 1839, 15)
patch(1981.5, 2015.5, 1834, 1844, "#F3F1E4", edge="#888")
note("0", 2027, 1839, 15)

fig.update_layout(width=W, height=H, margin=dict(l=0, r=0, t=0, b=0), paper_bgcolor="white",
                  plot_bgcolor="white", barmode="stack", showlegend=False,
                  font=dict(family=FONT, color="#111"))

fig.write_html("out.html", config={"displayModeBar": False}, post_script="document.body.style.margin = 0;")
